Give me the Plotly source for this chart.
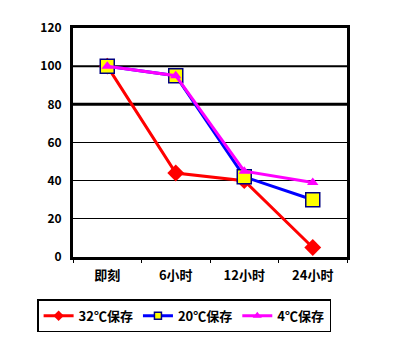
import plotly.graph_objects as go

categories = ["即刻", "6小时", "12小时", "24小时"]
s32 = [100, 44, 40, 5]
s20 = [100, 95, 42, 30]
s4 = [100, 95, 45, 39]
names = ["32℃保存", "20℃保存", "4℃保存"]

font = "Noto Sans CJK SC"
colors = ["#ff0000", "#0000ff", "#ff00ff"]
symbols = ["diamond", "square", "triangle-up"]
mcolors = ["#ff0000", "#ffff00", "#ff00ff"]
mlines = ["#ff0000", "#000080", "#ff00ff"]
sizes = [13, 14, 10]
legend_sizes = [8, 7, 8]

fig = go.Figure()
for vals, nm, c, sym, mc, ml, sz in zip([s32, s20, s4], names, colors, symbols, mcolors, mlines, sizes):
    fig.add_trace(go.Scatter(x=categories, y=vals, name=nm, mode="lines+markers",
                             showlegend=False,
                             line=dict(color=c, width=3),
                             marker=dict(symbol=sym, size=sz, color=mc,
                                         line=dict(color=ml, width=1.5 if sym == "square" else 0))))
for nm, c, sym, mc, ml, sz in zip(names, colors, symbols, mcolors, mlines, legend_sizes):
    fig.add_trace(go.Scatter(x=[None], y=[None], name=nm, mode="lines+markers",
                             line=dict(color=c, width=3),
                             marker=dict(symbol=sym, size=sz, color=mc,
                                         line=dict(color=ml, width=1.5 if sym == "square" else 0))))

fig.add_shape(type="line", xref="paper", yref="y", x0=0, x1=1, y0=80, y1=80,
              line=dict(color="black", width=3), layer="below")
fig.add_shape(type="line", xref="paper", yref="y", x0=0, x1=1, y0=100, y1=100,
              line=dict(color="black", width=2), layer="below")

# page body has an 8px default margin, so the figure is 8px smaller/offset
fig.update_layout(
    width=400, height=332,
    margin=dict(l=65, r=61, t=20, b=83, autoexpand=False),
    paper_bgcolor="white", plot_bgcolor="white",
    font=dict(family=font, size=12, color="black"),
    showlegend=True,
    legend=dict(orientation="h", x=-0.131, xanchor="left", y=-0.185, yanchor="top",
                bordercolor="black", borderwidth=1.5, bgcolor="white",
                font=dict(family=font, size=13, color="black", weight="bold"),
                tracegroupgap=0, itemwidth=30),
    xaxis=dict(type="category", showgrid=False, showline=True, linecolor="black",
               linewidth=3, mirror=True, ticks="outside", ticklen=3, tickcolor="black",
               tickson="boundaries", range=[-0.5, 3.5], ticklabelstandoff=4,
               tickfont=dict(family=font, size=13, weight="bold")),
    yaxis=dict(range=[0, 120], dtick=20, showgrid=True, gridcolor="black", gridwidth=1,
               showline=True, linecolor="black", linewidth=3, mirror=True,
               ticks="", zeroline=False, ticklabelstandoff=6,
               tickfont=dict(family=font, size=12, weight="bold")),
)
fig.write_html("out.html")
